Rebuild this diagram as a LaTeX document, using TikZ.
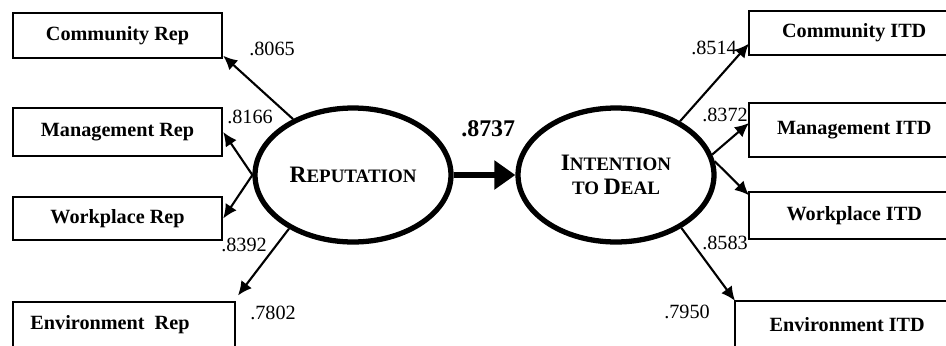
\documentclass[tikz,border=0pt]{standalone}
\usepackage{fontspec}
\setmainfont{Liberation Serif}
\usetikzlibrary{arrows.meta, shapes.geometric}

\tikzset{
  indicador/.style={draw, line width=1.4pt, inner sep=0pt, minimum width=4.18cm,
    font=\fontsize{11.5}{12}\selectfont\bfseries},
  cortado/.style={indicador, draw=none, anchor=west, minimum width=5.2cm},
  borde/.style={line width=1.4pt},
  latente/.style={draw, ellipse, line width=3pt, inner sep=0pt, minimum width=3.92cm,
    minimum height=2.68cm, align=center},
  carga/.style={font=\fontsize{11.5}{12}\selectfont, inner sep=0pt},
  flecha/.style={-{Latex[length=8pt,width=7.5pt]}, line width=1.2pt}
}
% versalitas hechas a mano
\newcommand{\versal}[2]{{\fontsize{13.4}{16}\selectfont\bfseries #1}{\fontsize{10.8}{16}\selectfont\bfseries #2}}
% texto corrido a la izquierda en las cajas cortadas
\newcommand{\corrido}[1]{#1\hspace*{1.04cm}}

\begin{document}
\begin{tikzpicture}[x=0.02cm, y=-0.02cm]
        \useasboundingbox (0,0) rectangle (946,345);
        \clip (0,0) rectangle (946,345);

        % Variables latentes
        \node[latente] (rep) at (353,175) {\versal{R}{EPUTATION}};
        \node[latente] (itd) at (616,175) {\versal{I}{NTENTION}\\[2pt]{\fontsize{10.8}{16}\selectfont\bfseries TO }\versal{D}{EAL}};
        \draw[-{Triangle[length=12pt,width=16pt]}, line width=3.2pt] (rep) -- (itd)
            node[pos=0.56, above=20pt, font=\fontsize{13.6}{14}\selectfont\bfseries, inner sep=0pt] (beta) {.8737};

        % Indicadores de la reputacion
        \node[indicador, minimum height=0.9cm] (comrep) at (117.5,35.5) {Community Rep};
        \node[indicador, minimum height=0.96cm] (mgmtrep) at (117.5,132) {Management Rep};
        \node[indicador, minimum height=0.86cm] (wprep) at (117.5,218.5) {Workplace Rep};
        \node[indicador, minimum height=0.92cm, minimum width=4.44cm] (envrep) at (124,325) {Environment\ \ Rep\hspace*{0.56cm}};

        % Indicadores de la intencion (se salen por la derecha)
        \node[cortado, minimum height=0.84cm] (comitd) at (749,33) {\corrido{Community ITD}};
        \node[cortado, minimum height=1.04cm] (mgmtitd) at (749,130) {\corrido{Management ITD}};
        \node[cortado, minimum height=0.9cm] (wpitd) at (749,215.5) {\corrido{Workplace ITD}};
        \node[cortado, minimum height=0.92cm, minimum width=5.48cm] (envitd) at (735,325) {\corrido{Environment ITD}};
        \foreach \caja in {comitd, mgmtitd, wpitd, envitd}
          \draw[borde] (\caja.north east) -- (\caja.north west) -- (\caja.south west) -- (\caja.south east);

        % Cargas hacia la izquierda
        \draw[flecha] (rep.137) -- ([yshift=2pt]comrep.south east);
        \draw[flecha] (rep.180) -- (mgmtrep.east);
        \draw[flecha] (rep.180) -- (wprep.east);
        \draw[flecha] (rep.220) -- ([xshift=1pt,yshift=3pt]envrep.north east);

        % Cargas hacia la derecha
        \draw[flecha] (itd.40) -- ([yshift=-6pt]comitd.west);
        \draw[flecha] (itd.12) -- ([yshift=4pt]mgmtitd.west);
        \draw[flecha] (itd.8) -- ([yshift=-2pt]wpitd.north west);
        \draw[flecha] (itd.-39) -- (envitd.north west);

        % Valores de las cargas
        \node[carga] (l1) at (272,49) {.8065};
        \node[carga] (l2) at (250,117) {.8166};
        \node[carga] (l3) at (244,245) {.8392};
        \node[carga] (l4) at (273,313) {.7802};
        \node[carga] (r1) at (714,48) {.8514};
        \node[carga] (r2) at (725,115) {.8372};
        \node[carga] (r3) at (725,243) {.8583};
        \node[carga] (r4) at (687,312) {.7950};
    \end{tikzpicture}
\end{document}
